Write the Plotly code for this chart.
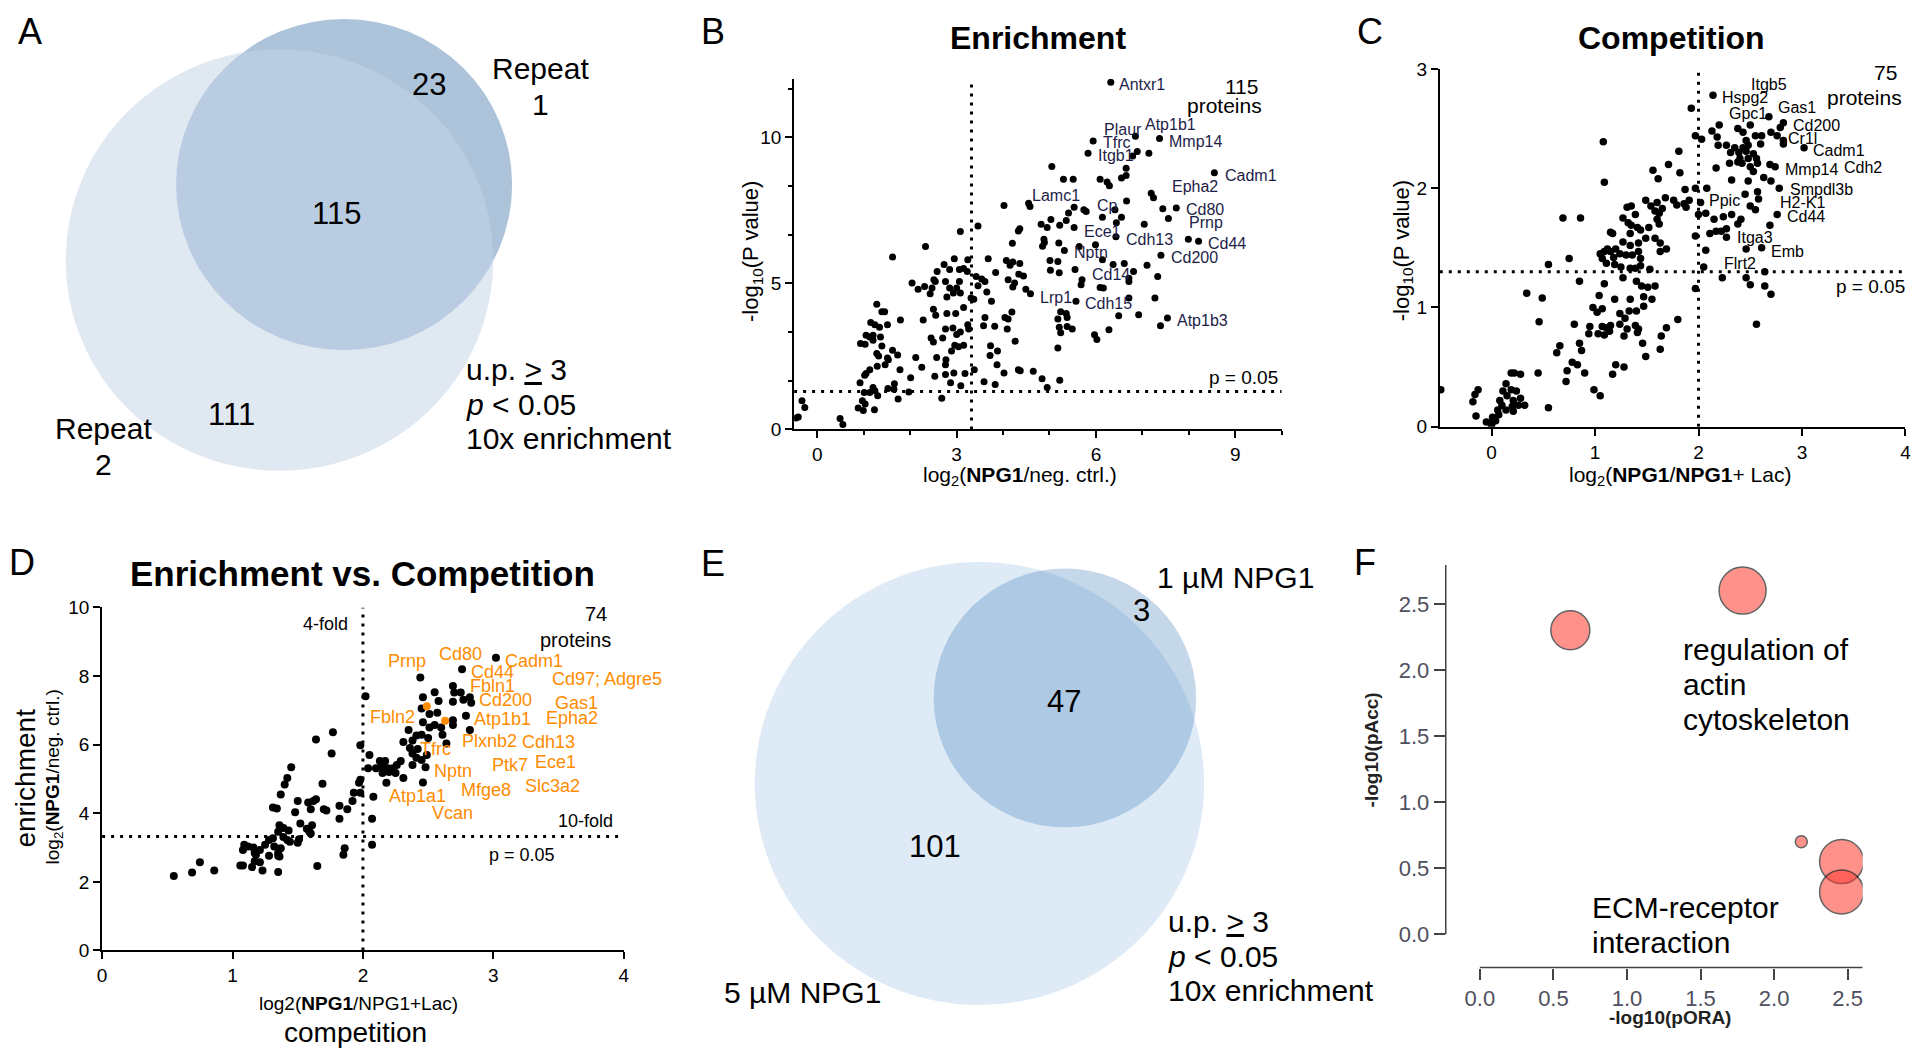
import plotly.graph_objects as go

# ========
# DATA
# ========

# Panel A - venn of the two repeats
a_names = ["Repeat 1", "Repeat 2"]
a_counts = [23, 115, 111]          # repeat1 only, both, repeat2 only

# Panel B - enrichment volcano
b_x = [6.32, 6.85, 7.37, 5.94, 5.83, 6.79, 6.89, 7.14, 5.05, 6.65, 6.55, 6.65, 8.55, 5.30, 5.51, 6.09, 6.24, 6.29,
       7.19, 7.24, 4.55, 4.58, 4.02, 5.53, 5.41, 5.74, 5.79, 6.41, 6.66, 6.55, 6.44, 6.14, 7.73, 7.44, 7.56, 5.36,
       5.22, 5.03, 4.82, 4.95, 4.36, 4.33, 5.53, 7.04, 3.46, 3.08, 4.88, 4.85, 4.89, 5.20, 6.43, 4.20, 2.33, 5.64,
       5.99, 7.99, 8.21, 5.32, 7.40, 6.14, 2.95, 3.24, 3.68, 1.62, 4.07, 4.21, 4.15, 4.36, 5.01, 5.18, 6.37, 6.61,
       7.10, 2.73, 2.85, 3.06, 3.15, 3.23, 2.58, 5.02, 5.21, 5.55, 6.81, 6.71, 7.33, 3.84, 4.34, 4.44, 4.11, 4.25,
       4.21, 3.42, 3.54, 3.61, 3.46, 2.04, 2.17, 2.31, 2.47, 2.54, 2.51, 2.76, 2.85, 3.06, 3.00, 2.93, 2.43, 2.79,
       3.08, 3.31, 3.37, 5.70, 5.68, 6.09, 6.16, 6.71, 4.49, 4.59, 3.65, 3.75, 5.57, 6.71, 7.27, 1.28, 1.39, 1.45,
       2.50, 2.55, 2.79, 2.98, 3.15, 4.19, 5.24, 5.36, 5.38, 6.49, 6.92, 7.54, 7.39, 2.28, 1.79, 3.61, 4.04, 4.11,
       1.15, 1.24, 1.34, 1.51, 3.24, 3.26, 3.58, 3.82, 4.09, 5.18, 5.21, 5.38, 5.49, 6.28, 2.76, 2.92, 3.08, 3.00,
       1.05, 1.13, 1.20, 1.36, 1.20, 0.93, 1.03, 2.45, 2.50, 2.70, 5.18, 5.24, 5.97, 6.02, 4.26, 1.39, 1.28, 1.32,
       2.96, 3.04, 3.15, 2.89, 3.73, 3.88, 3.72, 1.62, 1.51, 1.73, 1.53, 1.46, 1.29, 2.12, 2.57, 2.77, 2.76, 3.87,
       1.13, 1.05, 1.02, 1.78, 2.25, 3.38, 4.33, 4.37, 4.65, 2.01, 2.53, 2.76, 2.94, 3.18, 4.02, 4.84, 5.22, 0.92,
       2.87, 3.09, 3.59, 3.83, 4.95, 1.20, 1.24, 1.13, 1.30, 1.66, 1.52, 1.65, 1.97, 1.01, 1.74, 2.68, 0.88, 0.99,
       1.23, 0.97, 1.03, 0.49, 0.55, -0.33, -0.27, -0.46, -0.41]
b_y = [11.88, 10.03, 9.96, 9.87, 9.45, 9.36, 9.51, 9.45, 9.00, 8.94, 8.60, 8.69, 8.78, 8.56, 8.56, 8.56, 8.47, 8.34,
       8.08, 7.93, 7.74, 7.63, 7.66, 7.60, 7.41, 7.52, 7.46, 7.52, 7.82, 7.26, 7.07, 7.26, 7.58, 7.55, 7.22, 7.15,
       6.99, 7.18, 7.02, 6.91, 6.87, 6.79, 6.91, 7.02, 6.96, 6.77, 6.51, 6.27, 6.40, 6.38, 6.59, 6.37, 6.26, 6.26,
       6.32, 6.51, 6.44, 6.12, 5.96, 5.81, 5.84, 5.81, 5.84, 5.90, 5.78, 5.73, 5.62, 5.68, 5.78, 5.75, 5.64, 5.68,
       5.62, 5.64, 5.47, 5.47, 5.51, 5.40, 5.40, 5.45, 5.36, 5.47, 5.40, 5.17, 5.23, 5.37, 5.31, 5.25, 5.12, 5.01,
       4.87, 5.23, 5.15, 5.06, 4.92, 5.01, 4.80, 4.89, 4.84, 5.06, 5.12, 5.06, 4.84, 5.06, 4.84, 4.67, 4.64, 4.53,
       4.67, 4.50, 4.45, 5.12, 4.95, 4.86, 4.84, 5.06, 4.80, 4.64, 4.70, 4.39, 4.39, 4.50, 4.50, 4.28, 4.03, 4.03,
       4.11, 3.91, 3.97, 3.97, 4.17, 4.02, 4.03, 3.97, 3.83, 3.89, 3.92, 3.81, 3.55, 3.74, 3.74, 3.83, 3.83, 3.78,
       3.66, 3.58, 3.50, 3.58, 3.58, 3.44, 3.55, 3.53, 3.44, 3.78, 3.50, 3.52, 3.44, 3.41, 3.44, 3.47, 3.33, 3.25,
       3.22, 3.16, 3.22, 3.16, 3.05, 2.94, 2.91, 3.13, 2.99, 3.13, 2.79, 3.31, 3.24, 3.08, 3.02, 2.85, 2.60, 2.51,
       2.88, 2.83, 2.88, 2.68, 2.86, 2.68, 2.53, 2.71, 2.44, 2.55, 2.38, 2.21, 2.16, 2.46, 2.46, 2.38, 2.21, 2.21,
       2.04, 1.91, 1.85, 2.04, 2.13, 2.04, 2.04, 2.01, 1.99, 1.77, 1.82, 1.88, 1.93, 1.91, 1.93, 1.73, 1.68, 1.60,
       1.60, 1.49, 1.63, 1.54, 1.43, 1.43, 1.32, 1.26, 1.15, 1.56, 1.40, 1.37, 1.28, 1.26, 1.04, 1.07, 0.73, 0.65,
       0.67, 0.98, 0.87, 0.37, 0.17, 0.98, 0.75, 0.39, 0.42]
b_labels = [("Antxr1", 6.46, 11.79), ("Plaur", 6.13, 10.26), ("Atp1b1", 7.02, 10.42), ("Tfrc", 6.10, 9.81),
            ("Mmp14", 7.52, 9.87), ("Itgb1", 6.01, 9.36), ("Cadm1", 8.73, 8.69), ("Epha2", 7.60, 8.30),
            ("Lamc1", 4.57, 7.99), ("Cp", 5.97, 7.66), ("Cd80", 7.89, 7.52), ("Prnp", 7.97, 7.09),
            ("Ece1", 5.70, 6.79), ("Cdh13", 6.60, 6.49), ("Cd44", 8.38, 6.35), ("Nptn", 5.49, 6.04),
            ("Cd200", 7.58, 5.88), ("Cd14", 5.87, 5.31), ("Lrp1", 4.75, 4.50), ("Cdh15", 5.72, 4.30),
            ("Atp1b3", 7.70, 3.74)]

# Panel C - competition volcano
c_x = [2.14, 2.68, 2.50, 2.82, 2.79, 2.70, 2.76, 2.82, 2.82, 3.02, 1.93, 2.20, 2.13, 2.18, 2.19, 1.97, 2.03, 2.38,
       2.43, 2.55, 2.61, 2.46, 2.48, 2.43, 2.27, 2.35, 2.60, 2.31, 2.39, 2.46, 2.40, 2.48, 2.53, 2.56, 2.30, 2.38,
       2.42, 2.50, 2.57, 2.69, 2.74, 2.17, 2.53, 2.32, 2.48, 2.63, 2.70, 2.78, 2.08, 2.57, 2.45, 2.58, 2.50, 2.55,
       2.02, 2.00, 2.07, 2.15, 2.24, 2.32, 2.41, 2.38, 2.76, 2.69, 2.11, 2.17, 2.22, 2.27, 2.27, 1.97, 2.46, 2.61,
       2.07, 2.05, 2.64, 2.23, 2.46, 2.50, 2.64, 2.70, 1.97, 2.56,
       1.08, 1.09, 1.81, 1.71, 1.82, 1.56, 1.61, 1.87, 1.97, 1.91, 1.86, 1.88, 1.68, 1.76, 1.79, 1.49, 1.54, 1.60,
       1.58, 1.62, 1.65, 1.35, 1.31, 1.39, 1.27, 1.32, 1.35, 1.41, 1.44, 1.60, 1.62, 1.52, 0.69, 0.86, 1.15, 1.17,
       1.34, 1.27, 1.34, 1.42, 1.49, 1.58, 1.05, 1.09, 1.20, 1.15, 1.12, 1.63, 1.69, 1.63, 1.07, 1.11, 1.24, 1.30,
       1.36, 1.42, 1.44, 1.18, 1.19, 1.34, 1.39, 1.44, 1.25, 1.53, 0.55, 0.75, 0.85, 1.09, 1.27, 1.40, 1.45, 1.51,
       1.58, 0.34, 0.49, 1.04, 1.19, 1.34, 1.47, 1.55, 0.98, 1.02, 1.07, 1.24, 1.29, 1.33, 1.40, 1.47, 0.46, 1.80,
       0.80, 0.95, 0.94, 1.07, 1.11, 1.15, 1.03, 1.09, 1.14, 1.24, 1.31, 1.39, 1.42, 1.28, 1.41, 1.69, 1.64, 0.66,
       0.63, 0.85, 0.87, 1.46, 1.63, 1.49, 0.78, 0.83, 0.73, 0.90, 0.45, 1.20, 1.28, 1.17, 0.72, 0.99, 1.05, 0.55,
       -0.49, -0.18, -0.13, -0.16, -0.15,
       0.19, 0.22, 0.28, 0.14, 0.11, 0.19, 0.24, 0.15, 0.08, 0.21, 0.28, 0.10, 0.20, 0.26, 0.32, 0.06, 0.14, 0.21,
       0.01, 0.07, -0.05, 0.01, 0.04, 0.00]
c_y = [2.78, 2.60, 2.53, 2.55, 2.51, 2.47, 2.44, 2.40, 2.37, 2.34, 2.67, 2.53, 2.48, 2.43, 2.36, 2.44, 2.41, 2.50,
       2.47, 2.44, 2.44, 2.40, 2.36, 2.34, 2.36, 2.34, 2.37, 2.30, 2.30, 2.31, 2.25, 2.25, 2.29, 2.25, 2.21, 2.22,
       2.21, 2.18, 2.21, 2.20, 2.18, 2.17, 2.14, 2.07, 2.06, 2.09, 2.06, 2.00, 2.00, 1.97, 1.95, 1.91, 1.85, 1.82,
       1.88, 1.78, 1.79, 1.74, 1.76, 1.78, 1.74, 1.70, 1.78, 1.69, 1.62, 1.64, 1.64, 1.66, 1.59, 1.60, 1.49, 1.50,
       1.48, 1.34, 1.30, 1.25, 1.25, 1.19, 1.18, 1.11, 1.16, 0.86,
       2.39, 2.05, 2.31, 2.20, 2.13, 2.15, 2.08, 1.99, 2.00, 1.90, 1.87, 1.84, 1.92, 1.90, 1.86, 1.90, 1.85, 1.88,
       1.81, 1.79, 1.83, 1.85, 1.84, 1.78, 1.75, 1.71, 1.69, 1.67, 1.65, 1.74, 1.70, 1.67, 1.75, 1.75, 1.63, 1.62,
       1.62, 1.55, 1.52, 1.54, 1.58, 1.58, 1.45, 1.47, 1.49, 1.47, 1.49, 1.54, 1.49, 1.47, 1.41, 1.37, 1.45, 1.44,
       1.44, 1.47, 1.41, 1.42, 1.36, 1.33, 1.33, 1.35, 1.34, 1.32, 1.36, 1.41, 1.22, 1.20, 1.25, 1.22, 1.18, 1.17,
       1.18, 1.12, 1.08, 1.10, 1.07, 1.07, 1.09, 1.07, 1.00, 0.96, 0.99, 0.95, 0.91, 0.97, 0.97, 1.01, 0.88, 0.90,
       0.86, 0.84, 0.78, 0.84, 0.83, 0.85, 0.78, 0.77, 0.80, 0.86, 0.82, 0.85, 0.82, 0.76, 0.79, 0.83, 0.76, 0.68,
       0.62, 0.70, 0.64, 0.70, 0.65, 0.59, 0.54, 0.52, 0.47, 0.45, 0.45, 0.52, 0.50, 0.44, 0.38, 0.31, 0.26, 0.16,
       0.31, 0.21, 0.31, 0.27, 0.09,
       0.45, 0.45, 0.44, 0.36, 0.30, 0.31, 0.30, 0.26, 0.22, 0.22, 0.24, 0.18, 0.17, 0.18, 0.18, 0.14, 0.14, 0.13,
       0.08, 0.10, 0.04, 0.04, 0.05, 0.01]
c_labels = [("Itgb5", 2.49, 2.87), ("Hspg2", 2.21, 2.76), ("Gas1", 2.75, 2.68), ("Gpc1", 2.28, 2.63),
            ("Cd200", 2.89, 2.53), ("Cr1l", 2.85, 2.42), ("Cadm1", 3.09, 2.32), ("Mmp14", 2.82, 2.16),
            ("Cdh2", 3.39, 2.17), ("Smpdl3b", 2.86, 1.99), ("Ppic", 2.08, 1.90), ("H2-K1", 2.77, 1.88),
            ("Cd44", 2.84, 1.76), ("Itga3", 2.35, 1.59), ("Emb", 2.68, 1.47), ("Flrt2", 2.23, 1.37)]

# Panel D - enrichment vs competition
d_x = [3.02, 2.76, 2.44, 2.69, 2.75, 2.70, 2.55, 2.82, 2.83, 2.69, 2.77, 2.46, 2.58, 2.02, 2.45, 2.51, 2.57, 2.79,
       2.69, 2.69, 2.46, 2.51, 2.55, 2.60, 2.82, 2.35, 2.61, 2.41, 2.45, 2.50, 2.31, 2.38, 2.64, 2.36, 2.42, 2.38,
       2.49, 2.41, 2.45, 2.38, 2.48, 2.13, 2.17, 2.10, 2.15, 2.19, 2.23, 2.26, 2.29, 2.15, 2.20, 2.25, 2.18, 2.31,
       2.46, 2.05, 2.04, 1.98, 1.64, 1.77, 1.76, 1.98, 1.97, 1.93, 1.98, 2.08, 2.07, 2.07, 1.45, 1.42, 1.40, 1.69,
       1.37, 1.34, 1.31, 1.50, 1.48, 1.58, 1.62, 1.64, 1.60, 1.70, 1.72, 1.82, 1.88, 1.92, 1.82, 1.52, 1.57, 1.61,
       1.59, 1.60, 1.36, 1.39, 1.35, 1.43, 1.42, 1.44, 1.39, 1.51, 1.50, 1.28, 1.31, 1.25, 1.32, 1.37, 1.09, 1.12,
       1.08, 1.16, 1.21, 1.17, 1.35, 1.36, 1.28, 1.35, 1.18, 1.17, 1.86, 1.85, 1.21, 1.06, 1.08, 1.15, 1.23, 1.35,
       1.65, 0.75, 0.69, 0.86, 0.55]
d_y = [8.53, 8.20, 7.96, 7.71, 7.52, 7.52, 7.53, 7.38, 7.22, 7.25, 7.31, 7.38, 7.27, 7.41, 7.05, 6.89, 6.93, 6.84,
       6.71, 6.57, 6.65, 6.50, 6.57, 6.50, 6.43, 6.43, 6.29, 6.27, 6.29, 6.19, 6.08, 6.12, 6.03, 5.90, 5.87, 5.74,
       5.70, 5.62, 5.55, 5.41, 5.34, 5.52, 5.52, 5.31, 5.36, 5.31, 5.31, 5.41, 5.52, 5.17, 5.20, 5.17, 4.89, 5.03,
       4.90, 5.70, 5.31, 5.98, 6.15, 6.36, 5.74, 4.98, 4.89, 4.60, 4.60, 4.48, 3.84, 3.08, 5.34, 5.03, 4.84, 4.86,
       4.55, 4.14, 4.17, 4.36, 4.03, 4.31, 4.36, 4.41, 4.12, 4.12, 4.08, 4.22, 4.12, 4.36, 3.84, 3.70, 3.55, 3.65,
       3.46, 3.41, 3.65, 3.57, 3.46, 3.50, 3.22, 3.17, 3.31, 3.24, 3.14, 3.22, 3.27, 3.08, 3.03, 2.98, 3.08, 3.03,
       2.93, 3.00, 2.93, 2.84, 2.84, 2.74, 2.76, 2.76, 2.79, 2.60, 2.98, 2.79, 2.57, 2.48, 2.48, 2.43, 2.33, 2.29,
       2.46, 2.57, 2.27, 2.33, 2.17]
d_hl_x = [2.49, 2.63]
d_hl_y = [7.12, 6.70]
d_labels = [("Prnp", 2.34, 8.44), ("Cd80", 2.75, 8.63), ("Cadm1", 3.31, 8.44), ("Cd44", 2.99, 8.12),
            ("Cd97; Adgre5", 3.87, 7.91), ("Fbln1", 2.99, 7.72), ("Cd200", 3.09, 7.31), ("Gas1", 3.64, 7.22),
            ("Fbln2", 2.23, 6.82), ("Atp1b1", 3.07, 6.76), ("Epha2", 3.60, 6.79), ("Tfrc", 2.56, 5.87),
            ("Plxnb2", 2.97, 6.12), ("Cdh13", 3.42, 6.08), ("Nptn", 2.69, 5.24), ("Ptk7", 3.13, 5.41),
            ("Ece1", 3.48, 5.49), ("Mfge8", 2.94, 4.68), ("Slc3a2", 3.45, 4.79), ("Atp1a1", 2.42, 4.49),
            ("Vcan", 2.69, 4.01)]

# Panel E - venn of the two concentrations
e_names = ["1 µM NPG1", "5 µM NPG1"]
e_counts = [3, 47, 101]

# Panel F - pathway bubbles
f_x = [0.615, 1.786, 2.185, 2.459, 2.459]
f_y = [2.30, 2.60, 0.70, 0.55, 0.32]
f_size = [39, 47, 12, 44, 44]

# thresholds
P_LINE = 1.30      # -log10(0.05)
FOLD10 = 3.32      # log2(10)
FOLD4 = 2.0        # log2(4)

# ========
# LAYOUT HELPERS
# ========
W, H = 1920, 1062
OFF = 8            # default page margin around the plot div
FONT = "Liberation Sans, Arial, Helvetica, sans-serif"


def px(x):
    return (x - OFF) / W


def py(y):
    return 1 - (y - OFF) / H


annotations = []


def note(text, x, y, size, xref="paper", yref="paper", color="black", xanchor="center", yanchor="middle",
         angle=0):
    if xref == "paper":
        x = px(x)
    if yref == "paper":
        y = py(y)
    annotations.append(dict(text=text, x=x, y=y, xref=xref, yref=yref, showarrow=False,
                            xanchor=xanchor, yanchor=yanchor, textangle=angle,
                            font=dict(family=FONT, size=size, color=color)))


def note_lines(lines, x, y0, step, size, xanchor="center"):
    # one annotation per line so the line spacing can follow the reference
    for i, line in enumerate(lines):
        note(line, x, y0 + i * step, size, xanchor=xanchor)


shapes = []


def circle(cx, cy, r, fill):
    shapes.append(dict(type="circle", xref="paper", yref="paper",
                       x0=px(cx - r), x1=px(cx + r), y0=py(cy + r), y1=py(cy - r),
                       fillcolor=fill, line=dict(width=0), layer="below"))


def dotted(xref, yref, x0, x1, y0, y1):
    shapes.append(dict(type="line", xref=xref, yref=yref, x0=x0, x1=x1, y0=y0, y1=y1,
                       line=dict(color="black", width=3, dash="3px,6px")))


# ========
# FIGURE
# ========
fig = go.Figure()

fig.add_trace(go.Scatter(x=b_x, y=b_y, mode="markers", xaxis="x", yaxis="y",
                         marker=dict(color="black", size=7)))
fig.add_trace(go.Scatter(x=c_x, y=c_y, mode="markers", xaxis="x2", yaxis="y2",
                         marker=dict(color="black", size=7.5)))
fig.add_trace(go.Scatter(x=d_x, y=d_y, mode="markers", xaxis="x3", yaxis="y3",
                         marker=dict(color="black", size=8)))
fig.add_trace(go.Scatter(x=d_hl_x, y=d_hl_y, mode="markers", xaxis="x3", yaxis="y3",
                         marker=dict(color="#FF8C00", size=8)))
fig.add_trace(go.Scatter(x=f_x, y=f_y, mode="markers", xaxis="x4", yaxis="y4",
                         marker=dict(size=f_size, sizemode="diameter", color="rgba(255,65,55,0.82)",
                                     line=dict(color="#222", width=1.5))))

axis = dict(showgrid=False, zeroline=False, showline=True, linecolor="black", linewidth=2,
            ticks="outside", ticklen=7, tickwidth=2, tickcolor="black",
            tickfont=dict(family=FONT, size=19, color="black"))
minor = dict(ticks="outside", ticklen=4, tickwidth=2, tickcolor="black", tickmode="linear", tick0=0)

f_axis = dict(showgrid=False, zeroline=False, showline=False, ticks="outside", ticklen=11,
              tickwidth=1.5, tickcolor="#444", tickvals=[0, 0.5, 1, 1.5, 2, 2.5],
              ticktext=["0.0", "0.5", "1.0", "1.5", "2.0", "2.5"],
              tickfont=dict(family=FONT, size=22, color="#4f4f60"))

fig.update_layout(
    width=W, height=H, margin=dict(l=0, r=0, t=0, b=0),
    paper_bgcolor="white", plot_bgcolor="white", showlegend=False,
    xaxis=dict(axis, domain=[px(793.6), px(1284)], range=[-0.5, 10], tickvals=[0, 3, 6, 9],
               anchor="y", minor=dict(minor, dtick=1)),
    yaxis=dict(axis, domain=[py(427.7), py(70)], range=[0, 12], tickvals=[0, 5, 10],
               anchor="x", minor=dict(minor, dtick=5 / 3)),
    xaxis2=dict(axis, domain=[px(1443), px(1911.4)], range=[-0.5, 4], tickvals=[0, 1, 2, 3, 4], anchor="y2"),
    yaxis2=dict(axis, domain=[py(425), py(60)], range=[0, 3], tickvals=[0, 1, 2, 3], anchor="x2"),
    xaxis3=dict(axis, domain=[px(97.6), px(622.3)], range=[0, 4], tickvals=[0, 1, 2, 3, 4], anchor="y3"),
    yaxis3=dict(axis, domain=[py(959.3), py(609.3)], range=[0, 10], tickvals=[0, 2, 4, 6, 8, 10], anchor="x3"),
    xaxis4=dict(f_axis, domain=[px(1449), px(1868.3)], range=[-0.232, 2.602], anchor="y4"),
    yaxis4=dict(f_axis, domain=[py(976.7), py(566)], range=[-0.252, 2.794], anchor="x4"),
)

crit = ["u.p. <u>></u> 3", "<i>p</i> &lt; 0.05", "10x enrichment"]

# ---- venn A
circle(341, 178, 169, "rgb(172,195,218)")
circle(276, 255, 215, "rgba(198,212,231,0.54)")
note(str(a_counts[0]), 426, 76, 31)
note(str(a_counts[1]), 333, 207, 31)
note(str(a_counts[2]), 228, 412, 31)
note_lines(a_names[0].split(" "), 539, 60, 36.7, 30)
note_lines(a_names[1].split(" "), 99, 427, 36.5, 30)
note_lines(crit, 462, 367, 35, 30, xanchor="left")

# ---- venn E
circle(980, 789, 226, "rgb(222,234,246)")
circle(1066, 701.7, 132, "rgba(62,125,185,0.3)")
note(str(e_counts[0]), 1143, 612, 31)
note(str(e_counts[1]), 1065, 705, 31)
note(str(e_counts[2]), 935, 853, 31)
note(e_names[0], 1157, 579, 30, xanchor="left")
note(e_names[1], 721, 1002, 30, xanchor="left")
note_lines(crit, 1168, 930, 35, 30, xanchor="left")

# ---- panel letters
for letter, lx, ly in [("A", 25, 22), ("B", 712, 22), ("C", 1373, 22),
                       ("D", 17, 563), ("E", 712, 565), ("F", 1368, 563)]:
    note(letter, lx, ly, 36)

# ---- panel B
note("<b>Enrichment</b>", 1039, 28, 32)
note("-log<sub>10</sub>(P value)", 752, 246, 22, angle=-90)
note("log<sub>2</sub>(<b>NPG1</b>/neg. ctrl.)", 1021, 475, 21)
dotted("x", "y", FOLD10, FOLD10, 0, 12)
dotted("x", "y", -0.5, 10, P_LINE, P_LINE)
for name, lx, ly in b_labels:
    note(name, lx, ly, 16, xref="x", yref="y", color="#1d1d48", xanchor="left")
note(str(a_counts[1]), 9.13, 11.72, 21, xref="x", yref="y")
note("proteins", 8.76, 11.1, 21, xref="x", yref="y")
note("p = 0.05", 8.40, 1.77, 19, xref="x", yref="y", xanchor="left")

# ---- panel C
note("<b>Competition</b>", 1676, 28, 32)
note("-log<sub>10</sub>(P value)", 1406, 245, 22, angle=-90)
note("log<sub>2</sub>(<b>NPG1</b>/<b>NPG1</b>+ Lac)", 1685, 475, 21)
dotted("x2", "y2", FOLD4, FOLD4, 0, 3)
dotted("x2", "y2", -0.5, 4, P_LINE, P_LINE)
for name, lx, ly in c_labels:
    note(name, lx, ly, 16, xref="x2", yref="y2", xanchor="left")
note("75", 3.81, 2.97, 21, xref="x2", yref="y2")
note("proteins", 3.60, 2.76, 21, xref="x2", yref="y2")
note("p = 0.05", 3.66, 1.18, 19, xref="x2", yref="y2")

# ---- panel D
note("<b>Enrichment vs. Competition</b>", 360, 575, 35)
note("enrichment", 21, 783, 28, angle=-90)
note("log<sub>2</sub>(<b>NPG1</b>/neg. ctrl.)", 49, 782, 19, angle=-90)
note("log2(<b>NPG1</b>/NPG1+Lac)", 355, 1013, 19)
note("competition", 352, 1043, 28)
dotted("x3", "y3", FOLD4, FOLD4, 0, 10)
dotted("x3", "y3", 0, 4, FOLD10, FOLD10)
for name, lx, ly in d_labels:
    note(name, lx, ly, 18, xref="x3", yref="y3", color="#FF8C00")
note("4-fold", 1.71, 9.52, 18, xref="x3", yref="y3")
note("74", 3.79, 9.81, 20, xref="x3", yref="y3")
note("proteins", 3.63, 9.06, 20, xref="x3", yref="y3")
note("10-fold", 3.71, 3.77, 18, xref="x3", yref="y3")
note("p = 0.05", 3.22, 2.79, 18, xref="x3", yref="y3")

# ---- panel F
shapes.append(dict(type="line", xref="x4", yref="y4 domain", x0=0, x1=2.602, y0=0, y1=0,
                   line=dict(color="#444", width=1.5)))
shapes.append(dict(type="line", xref="x4 domain", yref="y4", x0=0, x1=0, y0=0, y1=2.794,
                   line=dict(color="#444", width=1.5)))
note("<b>-log10(pAcc)</b>", 1374, 755, 19, color="#222", angle=-90)
note("<b>-log10(pORA)</b>", 1675, 1028, 19, color="#222")
note_lines(["regulation of", "actin", "cytoskeleton"], 1686, 652, 35.8, 30, xanchor="left")
note_lines(["ECM-receptor", "interaction"], 1594, 915, 35.7, 30, xanchor="left")

fig.update_layout(shapes=shapes, annotations=annotations)

fig.write_html("out.html")
